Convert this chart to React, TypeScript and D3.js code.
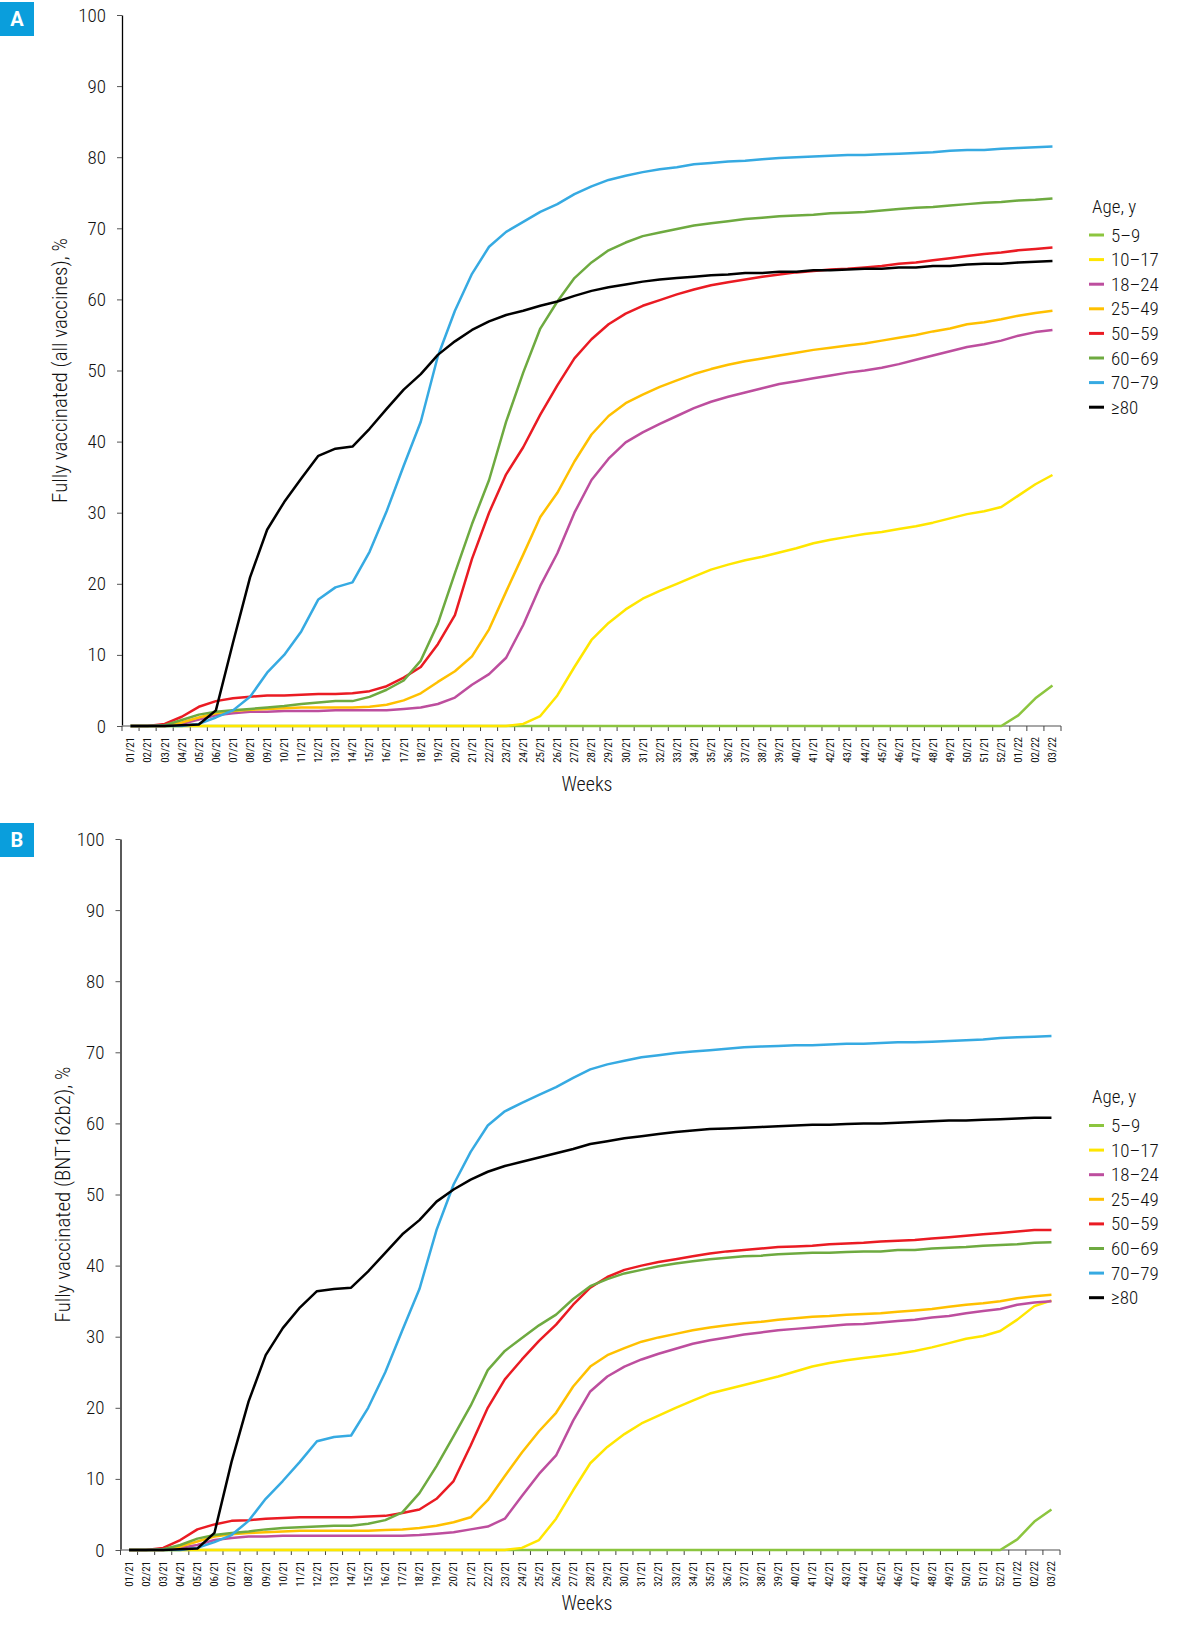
import { useEffect, useRef } from 'react';
import * as d3 from 'd3';

// Week labels on the category axis
const weeks = [
  '01/21', '02/21', '03/21', '04/21', '05/21', '06/21', '07/21', '08/21', '09/21', '10/21',
  '11/21', '12/21', '13/21', '14/21', '15/21', '16/21', '17/21', '18/21', '19/21', '20/21',
  '21/21', '22/21', '23/21', '24/21', '25/21', '26/21', '27/21', '28/21', '29/21', '30/21',
  '31/21', '32/21', '33/21', '34/21', '35/21', '36/21', '37/21', '38/21', '39/21', '40/21',
  '41/21', '42/21', '43/21', '44/21', '45/21', '46/21', '47/21', '48/21', '49/21', '50/21',
  '51/21', '52/21', '01/22', '02/22', '03/22',
];

const ageGroups = ['5–9', '10–17', '18–24', '25–49', '50–59', '60–69', '70–79', '≥80'];
const groupColors = ['#8cc53f', '#ffe600', '#bd4e9e', '#ffc000', '#ea1b23', '#6eaa40', '#36aae2', '#000000'];

const yTicks = [0, 10, 20, 30, 40, 50, 60, 70, 80, 90, 100];

// A: fully vaccinated, all vaccines (%)
const allVacc5to9 = [
  0, 0, 0, 0, 0, 0, 0, 0, 0, 0, 0, 0, 0, 0, 0, 0, 0, 0, 0, 0,
  0, 0, 0, 0, 0, 0, 0, 0, 0, 0, 0, 0, 0, 0, 0, 0, 0, 0, 0, 0,
  0, 0, 0, 0, 0, 0, 0, 0, 0, 0, 0, 0, 1.5, 3.9, 5.7,
];
const allVacc10to17 = [
  0, 0, 0, 0, 0, 0, 0, 0, 0, 0, 0, 0, 0, 0, 0, 0, 0, 0, 0, 0,
  0, 0, 0, 0.3, 1.4, 4.3, 8.3, 12.1, 14.5, 16.4, 17.9, 19.0, 20.0, 21.0, 22.0, 22.7, 23.3, 23.8, 24.4, 25.0,
  25.7, 26.2, 26.6, 27.0, 27.3, 27.7, 28.1, 28.6, 29.2, 29.8, 30.2, 30.8, 32.4, 34.0, 35.3,
];
const allVacc18to24 = [
  0, 0, 0, 0.3, 0.9, 1.5, 1.8, 2.0, 2.0, 2.1, 2.1, 2.1, 2.2, 2.2, 2.2, 2.2, 2.4, 2.6, 3.1, 4.0,
  5.8, 7.3, 9.6, 14.2, 19.7, 24.3, 30.0, 34.6, 37.6, 39.9, 41.3, 42.5, 43.6, 44.7, 45.6, 46.3, 46.9, 47.5, 48.1, 48.5,
  48.9, 49.3, 49.7, 50.0, 50.4, 50.9, 51.5, 52.1, 52.7, 53.3, 53.7, 54.2, 54.9, 55.4, 55.7,
];
const allVacc25to49 = [
  0, 0, 0, 0.5, 1.2, 1.8, 2.1, 2.3, 2.4, 2.5, 2.6, 2.6, 2.6, 2.6, 2.7, 3.0, 3.6, 4.6, 6.2, 7.7,
  9.8, 13.6, 18.9, 24.1, 29.4, 32.8, 37.2, 41.0, 43.6, 45.4, 46.6, 47.7, 48.6, 49.5, 50.2, 50.8, 51.3, 51.7, 52.1, 52.5,
  52.9, 53.2, 53.5, 53.8, 54.2, 54.6, 55.0, 55.5, 55.9, 56.5, 56.8, 57.2, 57.7, 58.1, 58.4,
];
const allVacc50to59 = [
  0, 0, 0.3, 1.3, 2.7, 3.5, 3.9, 4.1, 4.3, 4.3, 4.4, 4.5, 4.5, 4.6, 4.9, 5.6, 6.8, 8.3, 11.5, 15.6,
  23.5, 30.0, 35.4, 39.2, 43.8, 47.9, 51.7, 54.4, 56.5, 58.0, 59.1, 59.9, 60.7, 61.4, 62.0, 62.4, 62.8, 63.2, 63.5, 63.8,
  64.0, 64.2, 64.3, 64.5, 64.7, 65.0, 65.2, 65.5, 65.8, 66.1, 66.4, 66.6, 66.9, 67.1, 67.3,
];
const allVacc60to69 = [
  0, 0, 0.1, 0.85, 1.6, 2.0, 2.2, 2.4, 2.6, 2.8, 3.1, 3.3, 3.5, 3.5, 4.1, 5.1, 6.4, 9.2, 14.4, 21.5,
  28.4, 34.6, 42.8, 49.7, 55.9, 59.7, 63.0, 65.2, 66.9, 68.0, 68.9, 69.4, 69.9, 70.4, 70.7, 71.0, 71.3, 71.5, 71.7, 71.8,
  71.9, 72.1, 72.2, 72.3, 72.5, 72.7, 72.9, 73.0, 73.2, 73.4, 73.6, 73.7, 73.9, 74.0, 74.2,
];
const allVacc70to79 = [
  0, 0, 0, 0, 0.3, 1.2, 2.2, 4.1, 7.5, 10.0, 13.3, 17.8, 19.5, 20.2, 24.5, 30.2, 36.6, 42.8, 52.0, 58.4,
  63.6, 67.4, 69.5, 70.9, 72.3, 73.4, 74.8, 75.9, 76.8, 77.4, 77.9, 78.3, 78.6, 79.0, 79.2, 79.4, 79.5, 79.7, 79.9, 80.0,
  80.1, 80.2, 80.3, 80.3, 80.4, 80.5, 80.6, 80.7, 80.9, 81.0, 81.0, 81.2, 81.3, 81.4, 81.5,
];
const allVacc80plus = [
  0, 0, 0, 0.1, 0.2, 2.2, 11.7, 20.9, 27.6, 31.5, 34.8, 38.0, 39.0, 39.3, 41.8, 44.6, 47.3, 49.5, 52.2, 54.1,
  55.7, 56.9, 57.8, 58.4, 59.1, 59.7, 60.5, 61.2, 61.7, 62.1, 62.5, 62.8, 63.0, 63.2, 63.4, 63.5, 63.7, 63.7, 63.9, 63.9,
  64.1, 64.1, 64.2, 64.3, 64.3, 64.5, 64.5, 64.7, 64.7, 64.9, 65.0, 65.0, 65.2, 65.3, 65.4,
];

// B: fully vaccinated with BNT162b2 (%)
const bnt5to9 = [
  0, 0, 0, 0, 0, 0, 0, 0, 0, 0, 0, 0, 0, 0, 0, 0, 0, 0, 0, 0,
  0, 0, 0, 0, 0, 0, 0, 0, 0, 0, 0, 0, 0, 0, 0, 0, 0, 0, 0, 0,
  0, 0, 0, 0, 0, 0, 0, 0, 0, 0, 0, 0, 1.5, 4.0, 5.7,
];
const bnt10to17 = [
  0, 0, 0, 0, 0, 0, 0, 0, 0, 0, 0, 0, 0, 0, 0, 0, 0, 0, 0, 0,
  0, 0, 0, 0.3, 1.4, 4.4, 8.4, 12.2, 14.5, 16.3, 17.8, 18.9, 20.0, 21.0, 22.0, 22.6, 23.2, 23.8, 24.4, 25.1,
  25.8, 26.3, 26.7, 27.0, 27.3, 27.6, 28.0, 28.5, 29.1, 29.7, 30.1, 30.8, 32.4, 34.3, 35.1,
];
const bnt18to24 = [
  0, 0, 0, 0.3, 0.7, 1.4, 1.7, 1.9, 1.9, 2.0, 2.0, 2.0, 2.0, 2.0, 2.0, 2.0, 2.0, 2.1, 2.3, 2.5,
  2.9, 3.3, 4.4, 7.6, 10.7, 13.3, 18.2, 22.3, 24.4, 25.8, 26.8, 27.6, 28.3, 29.0, 29.5, 29.9, 30.3, 30.6, 30.9, 31.1,
  31.3, 31.5, 31.7, 31.8, 32.0, 32.2, 32.4, 32.7, 32.9, 33.3, 33.6, 33.9, 34.5, 34.8, 35.0,
];
const bnt25to49 = [
  0, 0, 0, 0.5, 1.2, 1.9, 2.2, 2.4, 2.5, 2.6, 2.7, 2.7, 2.7, 2.7, 2.7, 2.8, 2.9, 3.1, 3.4, 3.9,
  4.6, 7.0, 10.4, 13.7, 16.7, 19.3, 23.0, 25.8, 27.4, 28.4, 29.3, 29.9, 30.4, 30.9, 31.3, 31.6, 31.9, 32.1, 32.4, 32.6,
  32.8, 32.9, 33.1, 33.2, 33.3, 33.5, 33.7, 33.9, 34.2, 34.5, 34.7, 35.0, 35.4, 35.7, 35.9,
];
const bnt50to59 = [
  0, 0, 0.3, 1.4, 2.9, 3.6, 4.1, 4.2, 4.4, 4.5, 4.6, 4.6, 4.6, 4.6, 4.7, 4.8, 5.2, 5.7, 7.2, 9.7,
  14.7, 20.0, 24.0, 26.8, 29.4, 31.7, 34.5, 36.9, 38.4, 39.4, 40.0, 40.5, 40.9, 41.3, 41.7, 42.0, 42.2, 42.4, 42.6, 42.7,
  42.8, 43.0, 43.1, 43.2, 43.4, 43.5, 43.6, 43.8, 44.0, 44.2, 44.4, 44.6, 44.8, 45.0, 45.0,
];
const bnt60to69 = [
  0, 0, 0.1, 0.7, 1.6, 2.1, 2.4, 2.6, 2.9, 3.1, 3.2, 3.3, 3.4, 3.4, 3.7, 4.2, 5.3, 8.0, 11.8, 16.0,
  20.3, 25.3, 28.0, 29.8, 31.6, 33.1, 35.3, 37.1, 38.1, 38.9, 39.4, 39.9, 40.3, 40.6, 40.9, 41.1, 41.3, 41.4, 41.6, 41.7,
  41.8, 41.8, 41.9, 42.0, 42.0, 42.2, 42.2, 42.4, 42.5, 42.6, 42.8, 42.9, 43.0, 43.2, 43.3,
];
const bnt70to79 = [
  0, 0, 0, 0, 0.3, 1.1, 2.1, 4.1, 7.2, 9.7, 12.4, 15.3, 15.9, 16.1, 20.0, 25.0, 30.9, 36.7, 45.0, 51.4,
  56.0, 59.7, 61.7, 62.9, 64.0, 65.1, 66.4, 67.6, 68.3, 68.8, 69.3, 69.6, 69.9, 70.1, 70.3, 70.5, 70.7, 70.8, 70.9, 71.0,
  71.0, 71.1, 71.2, 71.2, 71.3, 71.4, 71.4, 71.5, 71.6, 71.7, 71.8, 72.0, 72.1, 72.2, 72.3,
];
const bnt80plus = [
  0, 0, 0, 0.1, 0.2, 2.4, 12.4, 20.9, 27.4, 31.2, 34.1, 36.4, 36.7, 36.9, 39.2, 41.8, 44.4, 46.4, 49.0, 50.7,
  52.1, 53.2, 54.0, 54.6, 55.2, 55.8, 56.4, 57.1, 57.5, 57.9, 58.2, 58.5, 58.8, 59.0, 59.2, 59.3, 59.4, 59.5, 59.6, 59.7,
  59.8, 59.8, 59.9, 60.0, 60.0, 60.1, 60.2, 60.3, 60.4, 60.4, 60.5, 60.6, 60.7, 60.8, 60.8,
];

const FONT = "'Roboto Condensed', 'Liberation Sans Narrow', Roboto, sans-serif";
const WEIGHT = 300;

const Panel = ({ letter, yTitle, series, layout }) => {
  const ref = useRef(null);

  useEffect(() => {
    const g = d3.select(ref.current);
    g.selectAll('*').remove();

    const { left, right, top, bottom, boxY, titleX, weeksY, legendTitleY, legendY } = layout;

    const x = d3.scaleBand().domain(weeks).range([left, right]);
    const cx = (w) => x(w) + x.bandwidth() / 2;
    const y = d3.scaleLinear().domain([0, 100]).range([bottom, top]);

    // panel letter
    g.append('rect')
      .attr('x', 0).attr('y', boxY)
      .attr('width', 34).attr('height', 34)
      .attr('fill', '#0a9edc');
    g.append('text')
      .attr('x', 17).attr('y', boxY + 17)
      .attr('text-anchor', 'middle')
      .attr('dominant-baseline', 'central')
      .attr('fill', '#fff')
      .attr('font-family', 'Roboto, sans-serif')
      .attr('font-weight', 'bold')
      .attr('font-size', 20)
      .text(letter);

    // y axis
    const yAxis = g.append('g')
      .attr('transform', `translate(${left},0)`)
      .call(d3.axisLeft(y).tickValues(yTicks).tickSize(5).tickPadding(11).tickSizeOuter(0));
    yAxis.select('.domain').attr('stroke', '#000').attr('stroke-width', 1.3);
    yAxis.selectAll('.tick line').attr('stroke', '#555');
    yAxis.selectAll('.tick text')
      .attr('font-family', FONT)
      .attr('font-weight', WEIGHT)
      .attr('font-size', 19)
      .attr('fill', '#111');

    // x axis with ticks between categories
    const xAxis = g.append('g');
    xAxis.append('line')
      .attr('x1', left).attr('x2', right)
      .attr('y1', bottom).attr('y2', bottom)
      .attr('stroke', '#8a8a8a').attr('stroke-width', 1.3);
    const edges = weeks.map((w) => x(w)).concat([right]);
    xAxis.selectAll('line.tick')
      .data(edges)
      .enter()
      .append('line')
      .attr('class', 'tick')
      .attr('x1', (d) => d).attr('x2', (d) => d)
      .attr('y1', bottom).attr('y2', bottom + 5)
      .attr('stroke', '#444');
    xAxis.selectAll('text')
      .data(weeks)
      .enter()
      .append('text')
      .attr('transform', (d) => `translate(${cx(d)},${bottom + 11}) rotate(-90)`)
      .attr('text-anchor', 'end')
      .attr('dy', '0.35em')
      .attr('font-family', FONT)
      .attr('font-size', 11)
      .attr('fill', '#111')
      .text((d) => d);

    // axis titles
    g.append('text')
      .attr('transform', `translate(${titleX},${(top + bottom) / 2}) rotate(-90)`)
      .attr('text-anchor', 'middle')
      .attr('dominant-baseline', 'central')
      .attr('font-family', FONT)
      .attr('font-weight', WEIGHT)
      .attr('font-size', 21)
      .attr('fill', '#111')
      .text(yTitle);
    g.append('text')
      .attr('x', 587).attr('y', weeksY)
      .attr('text-anchor', 'middle')
      .attr('dominant-baseline', 'central')
      .attr('font-family', FONT)
      .attr('font-weight', WEIGHT)
      .attr('font-size', 20)
      .attr('fill', '#111')
      .text('Weeks');

    // series lines, drawn in legend order
    const line = d3.line()
      .x((_, i) => cx(weeks[i]))
      .y((d) => y(d));

    series.forEach((values, k) => {
      g.append('path')
        .datum(values)
        .attr('fill', 'none')
        .attr('stroke', groupColors[k])
        .attr('stroke-width', 2.5)
        .attr('stroke-linejoin', 'round')
        .attr('d', line);
    });

    // legend
    const legend = g.append('g');
    legend.append('text')
      .attr('x', 1092).attr('y', legendTitleY)
      .attr('font-family', FONT)
      .attr('font-weight', WEIGHT)
      .attr('font-size', 19)
      .attr('fill', '#111')
      .text('Age, y');
    ageGroups.forEach((name, k) => {
      const ly = legendY + k * 24.6;
      legend.append('line')
        .attr('x1', 1089).attr('x2', 1104)
        .attr('y1', ly).attr('y2', ly)
        .attr('stroke', groupColors[k])
        .attr('stroke-width', 3);
      legend.append('text')
        .attr('x', 1111).attr('y', ly)
        .attr('dominant-baseline', 'central')
        .attr('font-family', FONT)
        .attr('font-weight', WEIGHT)
        .attr('font-size', 19)
        .attr('fill', '#111')
        .text(name);
    });
  }, [letter, yTitle, series, layout]);

  return <g ref={ref} />;
};

const layoutA = {
  left: 122, right: 1061, top: 15, bottom: 726,
  boxY: 2, titleX: 60, weeksY: 784,
  legendTitleY: 213, legendY: 235,
};
const layoutB = {
  left: 120.5, right: 1060, top: 839, bottom: 1550,
  boxY: 823, titleX: 63, weeksY: 1603,
  legendTitleY: 1103, legendY: 1125.5,
};

const seriesA = [allVacc5to9, allVacc10to17, allVacc18to24, allVacc25to49, allVacc50to59, allVacc60to69, allVacc70to79, allVacc80plus];
const seriesB = [bnt5to9, bnt10to17, bnt18to24, bnt25to49, bnt50to59, bnt60to69, bnt70to79, bnt80plus];

export default function App() {
  return (
    <div>
      <style>{'body { margin: 0; }'}</style>
      <svg width={1198} height={1625} style={{ display: 'block', background: '#fff' }}>
        <Panel letter="A" yTitle="Fully vaccinated (all vaccines), %" series={seriesA} layout={layoutA} />
        <Panel letter="B" yTitle="Fully vaccinated (BNT162b2), %" series={seriesB} layout={layoutB} />
      </svg>
    </div>
  );
}
